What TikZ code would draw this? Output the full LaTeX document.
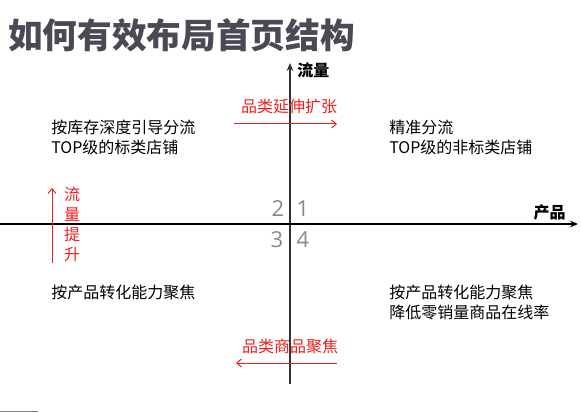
\documentclass[tikz,border=0pt]{standalone}
\usepackage{fontspec}
\setmainfont{Noto Sans CJK SC}
\newfontfamily\numfont{Open Sans}
\usepackage{tikz}
\usetikzlibrary{arrows.meta}

\definecolor{titlegray}{HTML}{4A4A55}
\definecolor{axisgray}{HTML}{333333}
\definecolor{numgray}{HTML}{8A8A8A}
\definecolor{flowred}{HTML}{F02020}

\tikzset{
  axis/.style={draw=axisgray, line width=1.5pt, -{Stealth[length=6pt,width=5pt]}},
  flow/.style={draw=flowred, line width=0.75pt, -{Straight Barb[length=3.5pt,width=6pt]}},
  quadtext/.style={anchor=west, inner sep=0pt, align=left, font=\fontsize{12}{15}\selectfont},
  redtext/.style={inner sep=0pt, text=flowred, font=\fontsize{12}{15}\selectfont},
  axislabel/.style={inner sep=0pt, font=\fontsize{12}{14}\selectfont\bfseries},
  quadnum/.style={inner sep=0pt, text=numgray, font=\numfont\fontsize{16.5}{18}\selectfont}
}

\begin{document}
\begin{tikzpicture}[x=0.75pt, y=-0.75pt]
  \useasboundingbox[fill=white] (0,0) rectangle (581,413);

  \node[anchor=west, inner sep=0pt, text=titlegray, font=\fontsize{26}{30}\selectfont\bfseries] (title) at (8,35) {如何有效布局首页结构};

  \coordinate (ybot) at (290,384);
  \coordinate (ytop) at (290,63);
  \coordinate (xleft) at (0,224);
  \coordinate (xright) at (578,224);
  \draw[axis] (ybot) -- (ytop);
  \draw[axis, draw=black] (xleft) -- (xright);
  \node[axislabel, anchor=west] (flowlabel) at (297,70) {流量};
  \node[axislabel, anchor=east] (prodlabel) at (566,212) {产品};

  \node[quadnum] (q2) at (278,209) {2};
  \node[quadnum] (q1) at (303,209) {1};
  \node[quadnum] (q3) at (277,240) {3};
  \node[quadnum] (q4) at (303,240) {4};

  \node[quadtext] (tl) at (51,137) {按库存深度引导分流\\TOP级的标类店铺};
  \node[quadtext] (tr) at (389,137) {精准分流\\TOP级的非标类店铺};
  \node[quadtext] (bl) at (51,292) {按产品转化能力聚焦};
  \node[quadtext] (br) at (389,302) {按产品转化能力聚焦\\降低零销量商品在线率};

  \node[redtext] (extend) at (289,106) {品类延伸扩张};
  \coordinate (ext0) at (234,124);
  \coordinate (ext1) at (337,124);
  \draw[flow] (ext0) -- (ext1);

  \node[redtext] (focus) at (290,346) {品类商品聚焦};
  \coordinate (foc0) at (337,363);
  \coordinate (foc1) at (236,363);
  \draw[flow] (foc0) -- (foc1);

  \node[redtext, align=center, font=\fontsize{12}{15}\selectfont] (lift) at (72,224) {流\\量\\提\\升};
  \coordinate (lift0) at (52,263);
  \coordinate (lift1) at (52,188);
  \draw[flow] (lift0) -- (lift1);

  \coordinate (mark0) at (0,411);
  \coordinate (mark1) at (38,411);
  \draw[draw=gray, line width=0.75pt] (mark0) -- (mark1);
\end{tikzpicture}
\end{document}
